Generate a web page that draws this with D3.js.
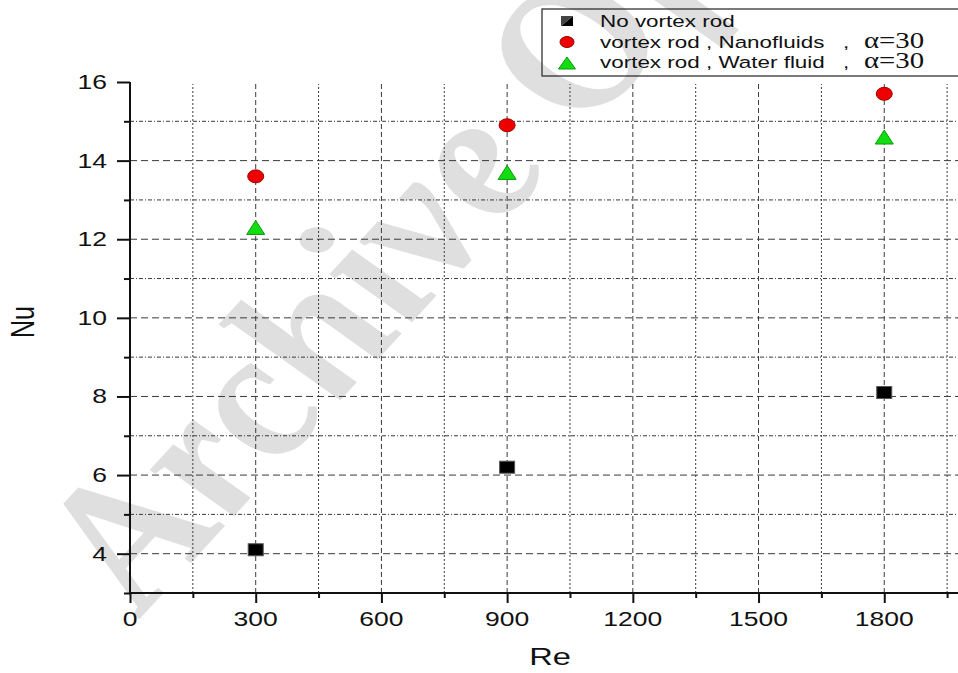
<!DOCTYPE html>
<html>
<head>
<meta charset="utf-8">
<script src="https://cdn.jsdelivr.net/npm/d3@7"></script>
<style>
  html, body { margin: 0; padding: 0; background: #fff; }
  svg { display: block; }
</style>
</head>
<body>
<svg id="chart" width="958" height="673"></svg>
<script>
// Reynolds numbers tested and measured Nusselt numbers
const reValues = [300, 900, 1800];
const nuNoRod = [4.1, 6.2, 8.1];
const nuNanofluid = [13.6, 14.9, 15.7];
const nuWater = [12.3, 13.7, 14.6];

const xTicks = [0, 300, 600, 900, 1200, 1500, 1800];
const xMinorTicks = [150, 450, 750, 1050, 1350, 1650, 1950];
const yTicks = [4, 6, 8, 10, 12, 14, 16];
const yMinorTicks = [3, 5, 7, 9, 11, 13, 15];

const legendLabels = ["No vortex rod", "vortex rod , Nanofluids", "vortex rod , Water fluid"];
const angleLabel = "\u03B1=30";

const SX = 1.36; // horizontal stretch applied to text glyphs

const svg = d3.select("#chart");
const x = d3.scaleLinear().domain([0, 1976]).range([130, 958]);
const y = d3.scaleLinear().domain([3, 16]).range([593, 82]);

// Watermark behind everything
svg.append("g")
  .attr("transform", `scale(${SX},1) translate(${146 / SX},612) rotate(-56)`)
  .append("text")
  .attr("font-family", "Liberation Serif, Times New Roman, serif")
  .attr("font-weight", "bold")
  .attr("font-style", "italic")
  .attr("font-size", 168)
  .attr("fill", "#dfdfdf")
  .text("Archive Of SID");

// Grid
const grid = svg.append("g").attr("stroke", "#3a3a3a").attr("stroke-width", 1).attr("fill", "none");
grid.selectAll(".vmaj").data(xTicks.filter(d => d > 0)).join("line")
  .attr("x1", d => x(d)).attr("x2", d => x(d))
  .attr("y1", y(3)).attr("y2", y(16) + 2)
  .attr("stroke-dasharray", "5,3");
grid.selectAll(".vmin").data(xMinorTicks).join("line")
  .attr("x1", d => x(d)).attr("x2", d => x(d))
  .attr("y1", y(3)).attr("y2", y(16) + 2)
  .attr("stroke-dasharray", "2,2");
grid.selectAll(".hmaj").data(yTicks.filter(d => d < 16)).join("line")
  .attr("x1", x(0)).attr("x2", 958)
  .attr("y1", d => y(d)).attr("y2", d => y(d))
  .attr("stroke-dasharray", "7,4");
grid.selectAll(".hmin").data(yMinorTicks.filter(d => d > 3)).join("line")
  .attr("x1", x(0)).attr("x2", 958)
  .attr("y1", d => y(d)).attr("y2", d => y(d))
  .attr("stroke-dasharray", "4,2,1,2");

// Axes
const font = "Arial, Liberation Sans, sans-serif";
const xAxis = svg.append("g").attr("transform", `translate(0,${y(3)})`);
xAxis.call(d3.axisBottom(x).tickValues(xTicks).tickSize(10).tickFormat(""));
xAxis.append("g").call(d3.axisBottom(x).tickValues(xMinorTicks).tickSize(5).tickFormat(""));
xAxis.selectAll(".domain").attr("d", "M130,0H958");
xAxis.selectAll("line, path").attr("stroke", "#111").attr("stroke-width", 2);

const yAxis = svg.append("g").attr("transform", `translate(${x(0)},0)`);
yAxis.call(d3.axisLeft(y).tickValues(yTicks).tickSize(13).tickFormat(""));
yAxis.append("g").call(d3.axisLeft(y).tickValues(yMinorTicks).tickSize(6).tickFormat(""));
yAxis.selectAll(".domain").attr("d", `M0,${y(16)}V${y(3)}`);
yAxis.selectAll("line, path").attr("stroke", "#111").attr("stroke-width", 2);

// Tick labels (stretched glyphs)
svg.append("g").selectAll("g").data(xTicks).join("g")
  .attr("transform", d => `translate(${x(d)},626) scale(${SX},1)`)
  .append("text")
  .attr("text-anchor", "middle")
  .attr("font-family", font).attr("font-size", 19.5).attr("fill", "#111")
  .text(d => d);
svg.append("g").selectAll("g").data(yTicks).join("g")
  .attr("transform", d => `translate(107,${y(d) + 7}) scale(${SX},1)`)
  .append("text")
  .attr("text-anchor", "end")
  .attr("font-family", font).attr("font-size", 19.5).attr("fill", "#111")
  .text(d => d);

// Axis titles
svg.append("g").attr("transform", `translate(550,665) scale(${SX},1)`)
  .append("text").attr("text-anchor", "middle")
  .attr("font-family", font).attr("font-size", 24).attr("fill", "#111")
  .text("Re");
svg.append("g").attr("transform", `translate(34,322) scale(${SX},1) rotate(-90)`)
  .append("text").attr("text-anchor", "middle")
  .attr("font-family", font).attr("font-size", 25).attr("fill", "#111")
  .text("Nu");

// Marker shapes
const squareW = 15, squareH = 12;
function drawSquare(g, cx, cy, w, h) {
  g.append("rect").attr("x", cx - w / 2).attr("y", cy - h / 2)
    .attr("width", w).attr("height", h)
    .attr("fill", "#000").attr("stroke", "#555").attr("stroke-width", 1);
}
function drawCircle(g, cx, cy, rx, ry) {
  g.append("ellipse").attr("cx", cx).attr("cy", cy).attr("rx", rx).attr("ry", ry)
    .attr("fill", "#ee0000").attr("stroke", "#a00000").attr("stroke-width", 1);
}
function drawTriangle(g, cx, cy, w, h) {
  g.append("path")
    .attr("d", `M${cx},${cy - h / 2}L${cx + w / 2},${cy + h / 2}L${cx - w / 2},${cy + h / 2}Z`)
    .attr("fill", "#11dd11").attr("stroke", "#0a9a0a").attr("stroke-width", 1);
}

const marks = svg.append("g");
reValues.forEach((re, i) => drawSquare(marks, x(re), y(nuNoRod[i]), squareW, squareH));
reValues.forEach((re, i) => drawCircle(marks, x(re), y(nuNanofluid[i]), 8, 6.5));
reValues.forEach((re, i) => drawTriangle(marks, x(re), y(nuWater[i]), 18, 14));

// Legend (open frame, watermark shows through)
const legend = svg.append("g");
legend.append("rect").attr("x", 542).attr("y", 9).attr("width", 430).attr("height", 67)
  .attr("fill", "none").attr("stroke", "#222").attr("stroke-width", 1.2);
legend.append("path").attr("d", "M561,26L573,16L573,26Z").attr("fill", "#000");
legend.append("path").attr("d", "M561,26L573,16L561,16Z").attr("fill", "#444");
drawCircle(legend, 567, 42, 7, 5.5);
drawTriangle(legend, 567, 63, 17, 12);

const rowBase = [27, 48, 68];
legendLabels.forEach((label, i) => {
  legend.append("g").attr("transform", `translate(600,${rowBase[i]}) scale(${SX},1)`)
    .append("text").attr("font-family", font).attr("font-size", 16.5).attr("fill", "#111")
    .text(label);
});
[1, 2].forEach(i => {
  legend.append("g").attr("transform", `translate(843,${rowBase[i]}) scale(${SX},1)`)
    .append("text").attr("font-family", font).attr("font-size", 16.5).attr("fill", "#111")
    .text(",");
  legend.append("g").attr("transform", `translate(864,${rowBase[i]}) scale(1.2,1)`)
    .append("text").attr("font-family", "Liberation Serif, Times New Roman, serif")
    .attr("font-size", 24).attr("fill", "#111")
    .text(angleLabel);
});
</script>
</body>
</html>
